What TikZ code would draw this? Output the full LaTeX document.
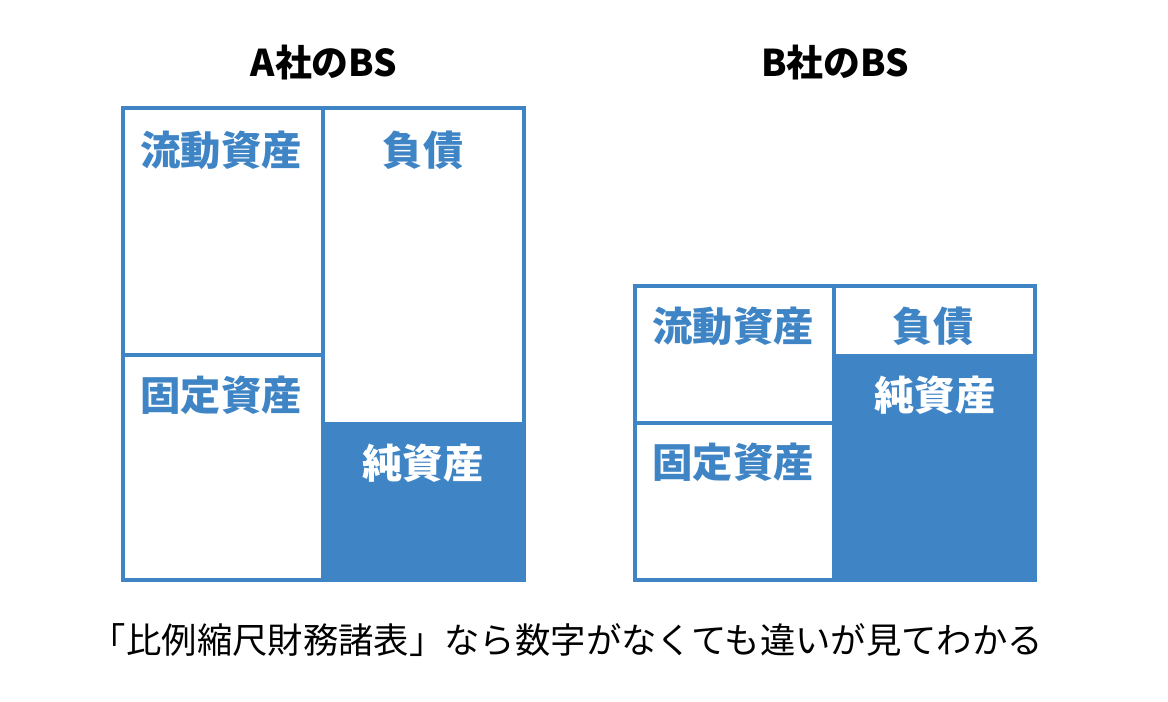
\documentclass[tikz,border=0pt]{standalone}
\usepackage{fontspec}
\setmainfont{Noto Sans CJK JP}
\definecolor{bsblue}{HTML}{3F85C6}
\begin{document}
\begin{tikzpicture}[x=1bp,y=-1bp,
  box/.style={draw=bsblue,line width=3.5bp},
  fillbox/.style={draw=bsblue,fill=bsblue,line width=3.5bp},
  lbl/.style={text=bsblue,font=\fontsize{40.5}{40}\selectfont\bfseries,inner sep=0},
  wlbl/.style={text=white,font=\fontsize{40.5}{40}\selectfont\bfseries,inner sep=0},
  ttl/.style={font=\fontsize{37}{37}\selectfont\bfseries,inner sep=0}]
\useasboundingbox (0,0) rectangle (1168,702);
% A
\draw[fillbox] (323,424) rectangle (524,580);
\draw[box] (123,108) rectangle (323,355);
\draw[box] (123,355) rectangle (323,580);
\draw[box] (323,108) rectangle (524,424);
\node[ttl] (ta) at (324,63) {A社のBS};
\node[lbl] (a1) at (221,150) {流動資産};
\node[lbl] (a2) at (423,150) {負債};
\node[lbl] (a3) at (221,395) {固定資産};
\node[wlbl] (a4) at (423,463) {純資産};
% B
\draw[fillbox] (834,356) rectangle (1035,580);
\draw[box] (635,286) rectangle (834,423);
\draw[box] (635,423) rectangle (834,580);
\draw[box] (834,286) rectangle (1035,356);
\node[ttl] (tb) at (835,63) {B社のBS};
\node[lbl] (b1) at (733,326) {流動資産};
\node[lbl] (b2) at (933,326) {負債};
\node[lbl] (b3) at (733,462) {固定資産};
\node[wlbl] (b4) at (935,395) {純資産};
\node[font=\fontsize{35.5}{36}\selectfont,inner sep=0] (cap) at (567,640) {「比例縮尺財務諸表」なら数字がなくても違いが見てわかる};
\end{tikzpicture}
\end{document}
